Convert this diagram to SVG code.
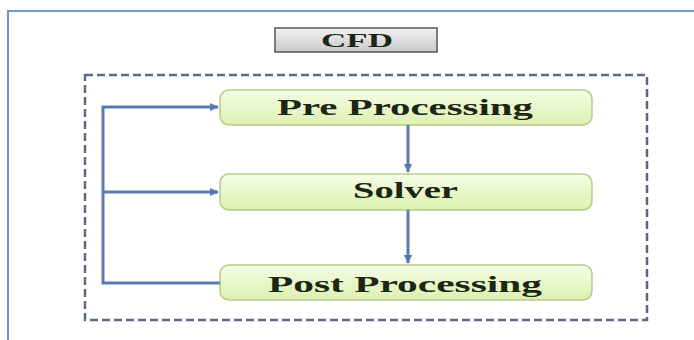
<svg xmlns="http://www.w3.org/2000/svg" width="694" height="340" viewBox="0 0 694 340">
<defs>
<linearGradient id="g" x1="0" y1="0" x2="0" y2="1"><stop offset="0" stop-color="#f6fde6"/><stop offset="1" stop-color="#dcf0b0"/></linearGradient>
<linearGradient id="gc" x1="0" y1="0" x2="0" y2="1"><stop offset="0" stop-color="#f4f4f4"/><stop offset="1" stop-color="#c8c8c8"/></linearGradient>
<marker id="ah" markerWidth="10" markerHeight="10" refX="8" refY="5" orient="auto" markerUnits="userSpaceOnUse"><path d="M0,1 L9,5 L0,9 Z" fill="#5a7ab4"/></marker>
</defs>
<style>
.box{fill:url(#g);stroke:#b4cc88;stroke-width:1.5}
.t{font-family:"Liberation Serif",serif;font-weight:bold;font-size:23px;fill:#1c2614}
.c{fill:none;stroke:#5a7ab4;stroke-width:3}
</style>
<rect x="0" y="0" width="694" height="340" fill="#fff"/>
<path d="M8,340 V11 H694" fill="none" stroke="#6f98cf" stroke-width="2"/>
<g id="cfd">
<rect x="275" y="28" width="162" height="24" fill="url(#gc)" stroke="#555" stroke-width="1.5"/>
<text x="321" y="47" class="t" style="font-size:19px" textLength="72" lengthAdjust="spacingAndGlyphs">CFD</text>
</g>
<rect id="frame" x="85" y="75" width="562" height="245" fill="none" stroke="#5c6880" stroke-width="2.5" stroke-dasharray="8,4"/>
<g id="pre"><rect class="box" x="220" y="90" width="372" height="35" rx="9"/><text class="t" x="277" y="115" textLength="256" lengthAdjust="spacingAndGlyphs">Pre Processing</text></g>
<g id="solver"><rect class="box" x="220" y="174" width="372" height="36" rx="9"/><text class="t" x="353" y="198" textLength="105" lengthAdjust="spacingAndGlyphs">Solver</text></g>
<g id="post"><rect class="box" x="220" y="265" width="372" height="35" rx="9"/><text class="t" x="268" y="292" textLength="274" lengthAdjust="spacingAndGlyphs">Post Processing</text></g>
<g id="connectors">
<path class="c" d="M220,283 H103 V107 H218" marker-end="url(#ah)"/>
<path class="c" d="M103,192 H218" marker-end="url(#ah)"/>
<path class="c" d="M408,125 V172" marker-end="url(#ah)"/>
<path class="c" d="M408,210 V263" marker-end="url(#ah)"/>
</g>
</svg>
